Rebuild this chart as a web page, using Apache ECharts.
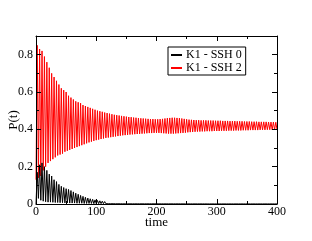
<!DOCTYPE html>
<html><head><meta charset="utf-8">
<script src="https://cdn.jsdelivr.net/npm/echarts@6/dist/echarts.min.js"></script>
<style>html,body{margin:0;padding:0;background:#fff}#c{width:312px;height:241px}</style>
</head><body><div id="c"></div>
<script>
const halfPeriod = 2;
const redStart = 0.13;
const blackStart = 0.0;
const redPeaks = [
0.85,0.83,0.82,0.79,0.76,0.73,0.70,0.68,0.66,0.64,
0.62,0.61,0.60,0.58,0.57,0.56,0.55,0.545,0.54,0.53,
0.525,0.52,0.515,0.51,0.505,0.50,0.497,0.494,0.49,0.487,
0.484,0.481,0.478,0.476,0.474,0.472,0.47,0.468,0.466,0.465,
0.463,0.462,0.46,0.459,0.458,0.457,0.456,0.455,0.455,0.454,
0.454,0.455,0.456,0.458,0.46,0.461,0.462,0.462,0.461,0.46,
0.458,0.456,0.454,0.452,0.451,0.45,0.449,0.449,0.448,0.448,
0.448,0.447,0.447,0.447,0.446,0.446,0.446,0.445,0.445,0.445,
0.444,0.444,0.444,0.443,0.443,0.443,0.442,0.442,0.442,0.441,
0.441,0.441,0.44,0.44,0.44,0.44,0.439,0.439,0.439,0.438];
const redTroughs = [
0.14,0.15,0.18,0.20,0.22,0.23,0.24,0.25,0.26,0.265,
0.27,0.28,0.285,0.29,0.295,0.30,0.305,0.31,0.315,0.32,
0.325,0.33,0.334,0.338,0.342,0.345,0.348,0.351,0.354,0.356,
0.358,0.36,0.362,0.364,0.366,0.368,0.369,0.37,0.372,0.373,
0.374,0.375,0.376,0.377,0.378,0.379,0.38,0.38,0.381,0.381,
0.381,0.38,0.379,0.378,0.377,0.377,0.377,0.378,0.379,0.38,
0.381,0.382,0.384,0.385,0.386,0.387,0.388,0.388,0.389,0.389,
0.39,0.39,0.39,0.391,0.391,0.391,0.392,0.392,0.392,0.393,
0.393,0.393,0.394,0.394,0.394,0.395,0.395,0.395,0.396,0.396,
0.396,0.396,0.397,0.397,0.397,0.398,0.398,0.398,0.398,0.399];
const blackPeaks = [
0.17,0.21,0.22,0.20,0.18,0.16,0.15,0.13,0.12,0.105,
0.095,0.088,0.082,0.078,0.072,0.065,0.058,0.052,0.046,0.041,
0.036,0.032,0.028,0.025,0.022,0.019,0.017,0.015,0.013,0.012,
0.011,0.010,0.009,0.008,0.007,0.0065,0.006,0.0055,0.005,0.0045,
0.004,0.0038,0.0035,0.0032,0.003,0.0028,0.0026,0.0024,0.0022,0.002,
0.002,0.002,0.002,0.0019,0.0019,0.0018,0.0018,0.0017,0.0017,0.0016,
0.0016,0.0015,0.0015,0.0015,0.0014,0.0014,0.0014,0.0013,0.0013,0.0013,
0.0012,0.0012,0.0012,0.0012,0.0011,0.0011,0.0011,0.0011,0.001,0.001,
0.001,0.001,0.001,0.001,0.001,0.001,0.001,0.001,0.001,0.001,
0.001,0.001,0.001,0.001,0.001,0.001,0.001,0.001,0.001,0.001];
const blackTroughs = [
0.03,0.02,0.015,0.012,0.01,0.01,0.009,0.008,0.008,0.007,
0.007,0.006,0.006,0.005,0.005,0.005,0.004,0.004,0.004,0.003,
0.003,0.003,0.003,0.002,0.002,0.002,0.002,0.002,0.0015,0.0015,
0.0015,0.0015,0.0012,0.0012,0.0012,0.001,0.001,0.001,0.001,0.001,
0.001,0.001,0.001,0.001,0.001,0.001,0.001,0.001,0.001,0.001,
0.0008,0.0008,0.0008,0.0008,0.0008,0.0008,0.0008,0.0008,0.0008,0.0008,
0.0006,0.0006,0.0006,0.0006,0.0006,0.0006,0.0006,0.0006,0.0006,0.0006,
0.0005,0.0005,0.0005,0.0005,0.0005,0.0005,0.0005,0.0005,0.0005,0.0005,
0.0005,0.0005,0.0005,0.0005,0.0005,0.0005,0.0005,0.0005,0.0005,0.0005,
0.0005,0.0005,0.0005,0.0005,0.0005,0.0005,0.0005,0.0005,0.0005,0.0005];
const xTicks = [0,100,200,300,400];
const yTicks = [0,0.2,0.4,0.6,0.8];
const seriesNames = ['K1 - SSH 0','K1 - SSH 2'];

function build(start, peaks, troughs){
  const d = [[0,start]];
  for (let i=0;i<peaks.length;i++){
    d.push([(2*i+1)*halfPeriod, peaks[i]]);
    d.push([(2*i+2)*halfPeriod, troughs[i]]);
  }
  return d;
}
const blackData = build(blackStart, blackPeaks, blackTroughs);
const redData = build(redStart, redPeaks, redTroughs);

const font = 'Liberation Serif';
const tick = () => ({show:true,inside:true,length:5,lineStyle:{color:'#000',width:1}});
const minor = () => ({show:true,splitNumber:2,length:3,lineStyle:{color:'#000',width:1}});
const chart = echarts.init(document.getElementById('c'),null,{renderer:'canvas'});
chart.setOption({
  animation:false,
  backgroundColor:'#fff',
  textStyle:{fontFamily:font},
  grid:{left:36,right:35,top:36,bottom:37,containLabel:false,outerBoundsMode:'none'},
  legend:{
    orient:'vertical',left:168,top:47,
    data:seriesNames,
    borderColor:'#000',borderWidth:1,borderRadius:0,
    padding:[2,4,1,3],itemGap:1,itemWidth:11,itemHeight:2,icon:'rect',
    textStyle:{fontFamily:font,fontSize:12,color:'#000',padding:[0,0,0,-1]}
  },
  xAxis:[{
    type:'value',min:0,max:400,interval:100,z:10,
    name:'time',nameLocation:'middle',nameGap:12,nameMoveOverlap:false,
    nameTextStyle:{fontFamily:font,fontSize:13,color:'#000',verticalAlign:'top'},
    axisLine:{show:true,onZero:false,lineStyle:{color:'#000'}},
    axisTick:tick(),minorTick:minor(),splitLine:{show:false},minorSplitLine:{show:false},
    axisLabel:{fontFamily:font,fontSize:12,color:'#000',margin:2,
      formatter:v=>xTicks.indexOf(v)>=0?String(v):''}
  },{
    type:'value',min:0,max:400,interval:100,position:'top',z:10,
    axisLine:{show:true,onZero:false,lineStyle:{color:'#000'}},
    axisTick:tick(),minorTick:minor(),splitLine:{show:false},
    axisLabel:{show:true,color:'rgba(0,0,0,0)',formatter:()=>''}
  }],
  yAxis:[{
    type:'value',min:0,max:0.9,interval:0.2,z:10,
    name:'P(t)',nameLocation:'middle',nameGap:16,nameRotate:90,nameMoveOverlap:false,
    nameTextStyle:{fontFamily:font,fontSize:13,color:'#000'},
    axisLine:{show:true,onZero:false,lineStyle:{color:'#000'}},
    axisTick:tick(),minorTick:minor(),splitLine:{show:false},
    axisLabel:{fontFamily:font,fontSize:12,color:'#000',margin:3,showMaxLabel:false,
      formatter:v=>{const k=yTicks.findIndex(t=>Math.abs(t-v)<1e-6);return k>=0?(v===0?'0':v.toFixed(1)):'';}}
  },{
    type:'value',min:0,max:0.9,interval:0.2,position:'right',z:10,
    axisLine:{show:true,onZero:false,lineStyle:{color:'#000'}},
    axisTick:tick(),minorTick:minor(),splitLine:{show:false},
    axisLabel:{show:true,color:'rgba(0,0,0,0)',formatter:()=>''}
  }],
  series:[
    {name:seriesNames[0],type:'line',data:blackData,showSymbol:false,symbol:'none',
     lineStyle:{width:1,color:'#000'},itemStyle:{color:'#000'},z:3},
    {name:seriesNames[1],type:'line',data:redData,showSymbol:false,symbol:'none',
     lineStyle:{width:1,color:'#ff0000'},itemStyle:{color:'#ff0000'},z:2}
  ]
});
</script></body></html>
